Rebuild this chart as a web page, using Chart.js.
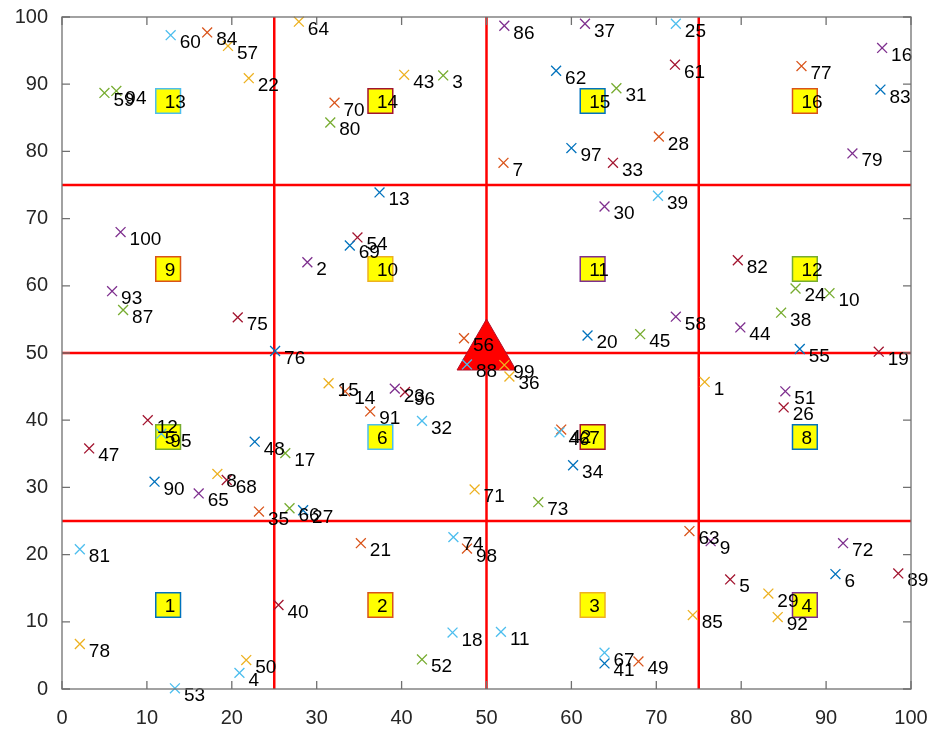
<!DOCTYPE html>
<html>
<head>
<meta charset="utf-8">
<script src="https://cdn.jsdelivr.net/npm/chart.js@4.4.0/dist/chart.umd.min.js"></script>
<style>html,body{margin:0;padding:0;background:#fff}</style>
</head>
<body>
<canvas id="c" width="938" height="734"></canvas>
<script>
// Sensor nodes (id = position in list + 1)
const pointX = [
  75.7, 28.9, 44.9, 20.9, 78.7, 91.1, 52.0, 18.3, 76.4, 90.4,
  51.7, 10.1, 37.4, 33.35, 31.4, 96.6, 26.3, 46.0, 96.2, 61.9,
  35.2, 22.0, 39.2, 86.4, 72.3, 85.0, 28.4, 70.3, 83.2, 63.9,
  65.3, 42.4, 64.9, 60.2, 23.2, 52.7, 61.6, 84.7, 70.2, 25.5,
  63.9, 58.8, 40.3, 79.9, 68.1, 58.6, 3.2, 22.7, 67.9, 21.7,
  85.2, 42.4, 13.3, 34.8, 86.9, 47.35, 19.55, 72.3, 5.0, 12.8,
  72.2, 58.2, 73.9, 27.9, 16.1, 26.8, 63.9, 19.4, 33.9, 32.1,
  48.6, 92.0, 56.1, 46.1, 20.7, 25.1, 87.1, 2.1, 93.1, 31.6,
  2.1, 79.6, 96.4, 17.1, 74.3, 52.1, 7.2, 47.7, 98.5, 10.9,
  36.3, 84.3, 5.9, 6.4, 11.7, 40.4, 60.0, 47.7, 52.1, 6.9
];
const pointY = [
  45.7, 63.5, 91.3, 2.4, 16.3, 17.1, 78.3, 32.0, 22.0, 58.9,
  8.5, 40.0, 73.9, 44.3, 45.5, 95.4, 35.1, 8.4, 50.2, 52.6,
  21.7, 90.9, 44.7, 59.6, 99.0, 41.9, 26.6, 82.2, 14.2, 71.8,
  89.4, 39.9, 78.3, 33.3, 26.4, 46.5, 99.0, 56.0, 73.4, 12.5,
  3.8, 38.6, 91.4, 53.8, 52.8, 38.2, 35.8, 36.8, 4.1, 4.3,
  44.3, 4.4, 0.1, 67.2, 50.6, 52.2, 95.7, 55.4, 88.7, 97.3,
  92.9, 92.0, 23.5, 99.3, 29.1, 26.9, 5.4, 31.1, 66.0, 87.25,
  29.7, 21.7, 27.8, 22.6, 55.3, 50.3, 92.7, 6.7, 79.7, 84.3,
  20.8, 63.8, 89.2, 97.7, 11.0, 98.7, 56.4, 48.3, 17.2, 30.85,
  41.3, 10.7, 59.2, 89.0, 38.0, 44.2, 80.5, 20.9, 48.2, 68.0
];
const pointIds = pointX.map((_, i) => i + 1);

// Cell centres of the 4 x 4 grid
const squareX = [12.5, 37.5, 62.5, 87.5, 12.5, 37.5, 62.5, 87.5, 12.5, 37.5, 62.5, 87.5, 12.5, 37.5, 62.5, 87.5];
const squareY = [12.5, 12.5, 12.5, 12.5, 37.5, 37.5, 37.5, 37.5, 62.5, 62.5, 62.5, 62.5, 87.5, 87.5, 87.5, 87.5];
const squareIds = [1, 2, 3, 4, 5, 6, 7, 8, 9, 10, 11, 12, 13, 14, 15, 16];

// Grid divisions and the sink
const dividers = [25, 50, 75];
const sinkX = [50];
const sinkY = [50];

const tickValues = [0, 10, 20, 30, 40, 50, 60, 70, 80, 90, 100];

const colorOrder = ['#0072BD', '#D95319', '#EDB120', '#7E2F8E', '#77AC30', '#4DBEEE', '#A2142F'];
const FONT = '"Liberation Sans", Arial, Helvetica, sans-serif';

const dividerSets = [];
dividers.forEach(v => {
  dividerSets.push({ data: [{x: v, y: 0}, {x: v, y: 100}] });
  dividerSets.push({ data: [{x: 0, y: v}, {x: 100, y: v}] });
});

const datasets = [
  {
    label: 'nodes',
    data: pointX.map((x, i) => ({x, y: pointY[i]})),
    pointStyle: 'crossRot',
    pointRadius: 7,
    borderWidth: 1.3,
    borderColor: pointX.map((_, i) => colorOrder[(i + 2) % 7]),
    backgroundColor: 'transparent',
    clip: false,
    order: 0
  },
  {
    label: 'sink',
    data: sinkX.map((x, i) => ({x, y: sinkY[i]})),
    pointStyle: 'triangle',
    pointRadius: 34,
    backgroundColor: '#FF0000',
    borderColor: '#B0102A',
    borderWidth: 1,
    clip: false,
    order: 1
  },
  {
    label: 'cells',
    data: squareX.map((x, i) => ({x, y: squareY[i]})),
    pointStyle: 'rect',
    pointRadius: 17.5,
    backgroundColor: '#FFFF00',
    borderColor: squareX.map((_, i) => colorOrder[i % 7]),
    borderWidth: 1.5,
    order: 2
  },
  ...dividerSets.map(d => ({
    label: 'grid',
    data: d.data,
    showLine: true,
    borderColor: '#FF0000',
    borderWidth: 2.5,
    pointRadius: 0,
    fill: false,
    clip: false,
    order: 3
  }))
];

const overlay = {
  id: 'overlay',
  afterDatasetsDraw(chart) {
    const {ctx, chartArea: a, scales: {x, y}} = chart;
    ctx.save();
    ctx.fillStyle = '#000';
    ctx.textAlign = 'left';
    ctx.textBaseline = 'middle';
    ctx.font = '19px ' + FONT;
    squareIds.forEach((id, i) => {
      ctx.fillText(String(id), x.getPixelForValue(squareX[i]) - 3.5, y.getPixelForValue(squareY[i]) + 1.5);
    });
    pointIds.forEach((id, i) => {
      ctx.fillText(String(id), x.getPixelForValue(pointX[i] + 1) + 0.5, y.getPixelForValue(pointY[i] - 1) + 1);
    });

    // axes box with inward tick marks on all four sides
    ctx.strokeStyle = '#707070';
    ctx.lineWidth = 1.3;
    ctx.strokeRect(a.left, a.top, a.right - a.left, a.bottom - a.top);
    const tl = 8;
    ctx.beginPath();
    tickValues.forEach(v => {
      const px = x.getPixelForValue(v);
      ctx.moveTo(px, a.bottom); ctx.lineTo(px, a.bottom - tl);
      ctx.moveTo(px, a.top); ctx.lineTo(px, a.top + tl);
      const py = y.getPixelForValue(v);
      ctx.moveTo(a.left, py); ctx.lineTo(a.left + tl, py);
      ctx.moveTo(a.right, py); ctx.lineTo(a.right - tl, py);
    });
    ctx.stroke();
    ctx.restore();
  }
};

new Chart(document.getElementById('c'), {
  type: 'scatter',
  data: { datasets },
  options: {
    responsive: false,
    animation: false,
    events: [],
    layout: { autoPadding: false, padding: { top: 17, right: 27, left: 0, bottom: 0 } },
    plugins: { legend: { display: false }, tooltip: { enabled: false } },
    scales: {
      x: {
        type: 'linear', min: 0, max: 100,
        afterBuildTicks: s => { s.ticks = tickValues.map(v => ({value: v})); },
        afterFit: s => { s.height = 45; },
        grid: { display: false, drawTicks: true, tickLength: 17 },
        border: { display: false },
        ticks: { font: { size: 20, family: FONT }, color: '#262626', padding: 0, maxRotation: 0 }
      },
      y: {
        type: 'linear', min: 0, max: 100,
        afterBuildTicks: s => { s.ticks = tickValues.map(v => ({value: v})); },
        afterFit: s => { s.width = 62; },
        grid: { display: false, drawTicks: true, tickLength: 14 },
        border: { display: false },
        ticks: { font: { size: 20, family: FONT }, color: '#262626', padding: 0 }
      }
    }
  },
  plugins: [overlay]
});
</script>
</body>
</html>
